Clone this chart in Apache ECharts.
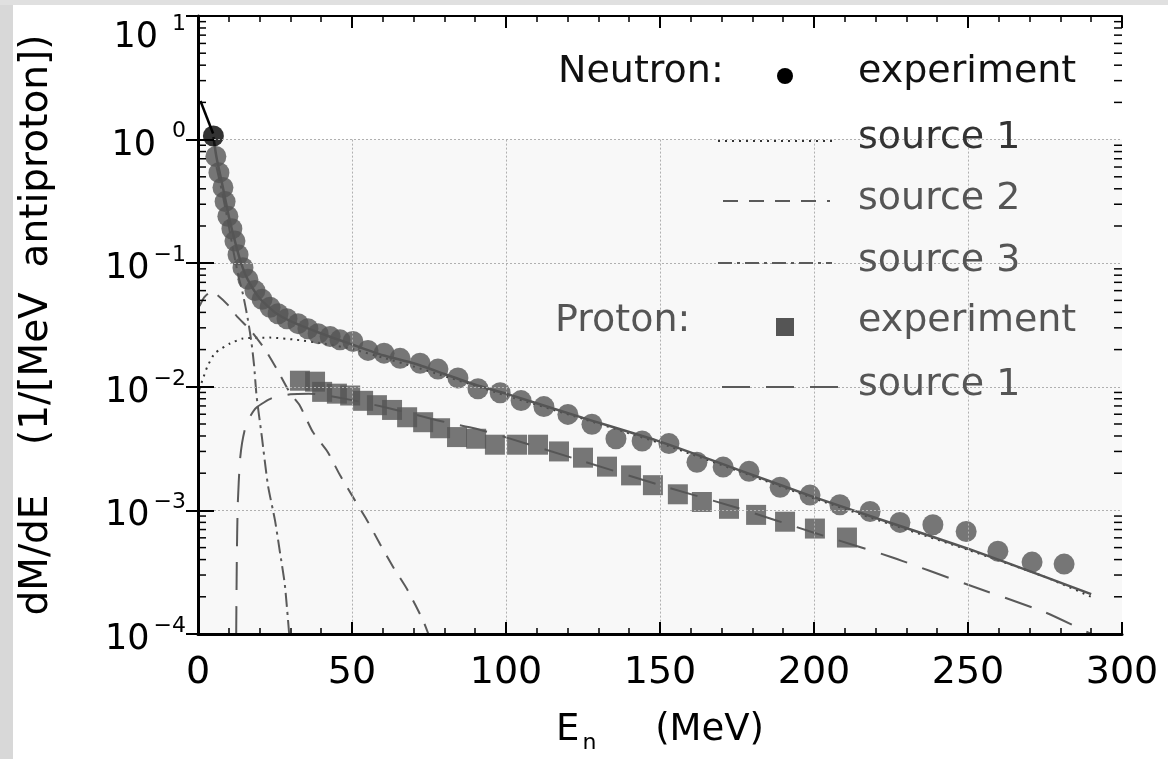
<!DOCTYPE html>
<html><head><meta charset="utf-8">
<script src="https://cdn.jsdelivr.net/npm/echarts@6/dist/echarts.min.js"></script>
<style>html,body{margin:0;padding:0;background:#fff}#c{width:1168px;height:759px}</style>
</head><body><div id="c"></div>
<script>
// ---- data: [E (MeV), dM/dE (1/[MeV antiproton])] ----
const neutronExp = [[5.0,1.07],[5.8,0.73],[6.8,0.54],[8.1,0.41],[8.8,0.315],[9.7,0.24],[11.0,0.19],[12.0,0.151],[13.0,0.117],[14.6,0.092],[16.2,0.074],[18.5,0.060],[20.8,0.051],[23.4,0.044],[26.0,0.039],[28.9,0.0355],[32.5,0.0324],[35.7,0.0295],[39.0,0.0269],[42.9,0.0255],[46.1,0.024],[50.3,0.0233],[55.2,0.0197],[60.4,0.0187],[65.6,0.0170],[72.1,0.0155],[77.9,0.0139],[84.4,0.0118],[90.9,0.00964],[98.1,0.00895],[104.9,0.00773],[112.3,0.00692],[120.1,0.00598],[127.9,0.00498],[135.7,0.0038],[144.2,0.00364],[152.9,0.00347],[162.0,0.00245],[170.5,0.00224],[178.9,0.00207],[189.0,0.00154],[198.7,0.00133],[208.4,0.00111],[218.2,0.00098],[227.9,0.00080],[238.6,0.000766],[249.4,0.000675],[259.7,0.000468],[270.8,0.000382],[281.2,0.000368]];
const protonExp = [[33.1,0.0112],[38.0,0.0110],[40.3,0.0091],[45.1,0.0088],[49.4,0.0085],[53.6,0.0077],[58.1,0.0071],[63.0,0.0065],[67.9,0.00567],[73.1,0.00517],[78.6,0.00462],[84.1,0.00392],[90.3,0.0038],[96.4,0.0034],[103.6,0.0034],[110.4,0.0034],[117.2,0.0030],[125.0,0.00267],[132.8,0.00226],[140.6,0.00192],[147.7,0.0016],[155.8,0.00135],[163.6,0.00117],[172.4,0.00103],[181.2,0.00092],[190.6,0.00081],[200.3,0.000713],[210.7,0.000603]];
const neutronTotalLow = [[0.8,2.05],[4.9,1.12]];
const neutronTotal = [[5,1.05],[6,0.72],[8,0.42],[10,0.24],[12,0.15],[14,0.1],[16,0.075],[20,0.052],[25,0.04],[30,0.034],[40,0.027],[50,0.022],[60,0.018],[70,0.0155],[80,0.0127],[90,0.0104],[100,0.0088],[125,0.0056],[150,0.0036],[175,0.00215],[200,0.00128],[225,0.00079],[250,0.00049],[275,0.00029],[290,0.00021]];
const neutronSource1 = [[0.4,0.0095],[1.6,0.0116],[3,0.0145],[5.5,0.0187],[10.4,0.0224],[14.6,0.0246],[23.4,0.025],[32,0.024],[40.6,0.0224],[49.4,0.0204],[60,0.0172],[70,0.0146],[80,0.0122],[90,0.0102],[100,0.0085],[125,0.0055],[150,0.0035],[175,0.0021],[200,0.00125],[225,0.00077],[250,0.00048],[275,0.00029],[290,0.0002]];
const neutronSource2 = [[0.5,0.045],[2,0.053],[4,0.058],[6,0.056],[9.7,0.046],[12.7,0.037],[16.9,0.029],[21.8,0.020],[25.6,0.0139],[29.9,0.0089],[33,0.0071],[37.3,0.0043],[42,0.0030],[46,0.00195],[51,0.0012],[54.9,0.00083],[59,0.00054],[63.3,0.00035],[67.9,0.00023],[73,0.00013],[74.8,0.0001]];
const neutronSource3 = [[6,0.6],[8,0.36],[10,0.2],[11.5,0.125],[13.1,0.079],[14.6,0.056],[16.2,0.035],[17.4,0.0224],[18.2,0.015],[19,0.0085],[20.7,0.0040],[22.7,0.0016],[25,0.00083],[26.6,0.00046],[28.2,0.00025],[29.6,0.0001]];
const protonSource1 = [[12.4,0.0001],[12.6,0.0004],[12.9,0.0011],[13.6,0.0025],[14.3,0.0035],[15.3,0.0046],[17,0.0058],[19,0.0068],[24,0.0081],[30,0.0087],[36,0.0088],[42,0.0085],[50,0.0078],[60,0.0069],[70,0.006],[80,0.0052],[90,0.0046],[100,0.0039],[125,0.0025],[150,0.0016],[175,0.00105],[200,0.00066],[225,0.00042],[250,0.00025],[275,0.00015],[290,0.0001]];
const xTicks = [0,50,100,150,200,250,300];
const yDecades = [-4,-3,-2,-1,0,1];

const FONT = 'DejaVu Sans';
const GRAY = '#555';

// minor log ticks (2..9 per decade)
const minorY = [];
for (let d = -4; d < 1; d++) for (let m = 2; m <= 9; m++) minorY.push([0, m * Math.pow(10, d)]);

// grid lines (only in lower region, 10^0 .. 10^-4)
const gridLines = [];
xTicks.slice(1, -1).forEach(x => gridLines.push([{coord:[x,1]},{coord:[x,1e-4]}]));
yDecades.filter(d => d <= 0 && d > -4).forEach(d => gridLines.push([{coord:[0,Math.pow(10,d)]},{coord:[300,Math.pow(10,d)]}]));

const chart = echarts.init(document.getElementById('c'));
const axisBase = {
  type:'value', min:0, max:300, interval:50, z:5,
  axisLine:{lineStyle:{color:'#000',width:3}},
  axisTick:{inside:true,length:12,lineStyle:{color:'#000',width:2}},
  minorTick:{show:true,splitNumber:5,length:6,lineStyle:{color:'#000',width:1.5}},
  splitLine:{show:false}
};
const yBase = {
  type:'log', logBase:10, min:1e-4, max:10, z:5,
  axisLine:{lineStyle:{color:'#000',width:3}},
  axisTick:{inside:true,length:16,lineStyle:{color:'#000',width:2}},
  splitLine:{show:false}, minorTick:{show:false}
};
function lineSeries(name, data, color, width, dash, z){
  return {name, type:'line', data, symbol:'none', smooth:0.2, z:z||2,
    lineStyle:{color, width, type:dash||'solid'}, silent:true, animation:false};
}
chart.setOption({
  backgroundColor:'#fff',
  animation:false,
  grid:{left:198, right:46, top:16, bottom:117},
  xAxis:[
    Object.assign({}, axisBase, {position:'bottom',
      axisLabel:{fontSize:38,color:'#000',fontFamily:FONT,margin:20},
      name:'{a|E}{s|n}{a|     (MeV)}', nameLocation:'middle', nameGap:72,
      nameTextStyle:{color:'#000',fontFamily:FONT,rich:{
        a:{fontSize:37,fontFamily:FONT,color:'#000'},
        s:{fontSize:22,fontFamily:FONT,color:'#000',padding:[26,0,0,3]}}}}),
    Object.assign({}, axisBase, {position:'top', axisLabel:{show:false},
      axisLine:{lineStyle:{color:'#000',width:2}}})
  ],
  yAxis:[
    Object.assign({}, yBase, {position:'left',
      axisLabel:{margin:12, align:'right', color:'#000',
        formatter: v => {
          const e = Math.round(Math.log10(v));
          const s = e < 0 ? '\u2212' + (-e) : '' + e;
          if (e === 1) return '{bt|10}{et|' + s + '}';
          return '{b|10}{' + (e < 0 ? 'en' : 'ep') + '|' + s + '}';
        },
        rich:{
          b:{fontSize:35,fontFamily:FONT,color:'#000',padding:[12,0,0,0]},
          ep:{fontSize:22,fontFamily:FONT,color:'#000',padding:[0,0,16,16]},
          en:{fontSize:22,fontFamily:FONT,color:'#000',padding:[0,0,16,4]},
          bt:{fontSize:35,fontFamily:FONT,color:'#000',padding:[44,0,0,0]},
          et:{fontSize:22,fontFamily:FONT,color:'#000',padding:[32,0,16,14]}
        }},
      name:'dM/dE    (1/[MeV  antiproton])', nameLocation:'middle', nameGap:142,
      nameTextStyle:{fontSize:39,fontFamily:FONT,color:'#000'}}),
    Object.assign({}, yBase, {position:'right', axisLabel:{show:false},
      axisLine:{lineStyle:{color:'#000',width:2}}, axisTick:{inside:true,length:12,lineStyle:{color:'#000',width:2}}})
  ],
  series:[
    {name:'bg', type:'line', data:[], z:0, silent:true,
      markArea:{silent:true, itemStyle:{color:'#f8f8f8',opacity:1}, data:[[{coord:[0,1]},{coord:[300,1e-4]}]]},
      markLine:{silent:true, symbol:'none', label:{show:false},
        lineStyle:{color:'#b0b0b0',width:1,type:[2,2]}, data:gridLines}},
    lineSeries('Neutron source 1', neutronSource1, '#333', 2, [2,5]),
    lineSeries('Neutron source 2', neutronSource2, '#5a5a5a', 2, [15,11]),
    lineSeries('Neutron source 3', neutronSource3, '#5a5a5a', 2, [14,5,3,5]),
    lineSeries('Proton source 1', protonSource1, '#5a5a5a', 2, [28,16]),
    lineSeries('Neutron total', neutronTotal, GRAY, 2.5),
    {name:'Neutron experiment', type:'scatter', symbol:'circle', symbolSize:21, z:3, silent:true,
      itemStyle:{color:GRAY},
      data: neutronExp.map((p,i) => i === 0 ? {value:p, itemStyle:{color:'#000'}, z2:5} : p)},
    {name:'Proton experiment', type:'scatter', symbol:'rect', symbolSize:20, z:3, silent:true,
      itemStyle:{color:GRAY}, data: protonExp},
    lineSeries('Neutron total (low E)', neutronTotalLow, '#000', 2.5, 'solid', 4),
    {name:'minor y ticks', type:'custom', data:minorY, encode:{x:0,y:1}, z:6, silent:true, clip:false,
      renderItem:(params, api) => {
        const v = api.value(1);
        const pL = api.coord([0, v]), pR = api.coord([300, v]);
        return {type:'group', children:[
          {type:'line', shape:{x1:pL[0], y1:pL[1], x2:pL[0]+8, y2:pL[1]}, style:{stroke:'#000', lineWidth:1.5}},
          {type:'line', shape:{x1:pR[0], y1:pR[1], x2:pR[0]-8, y2:pR[1]}, style:{stroke:'#000', lineWidth:1.5}}
        ]};
      }}
  ],
  graphic:[
    {type:'rect', z:20, shape:{x:0,y:0,width:13,height:759}, style:{fill:'#d8d8d8'}},
    {type:'rect', z:20, shape:{x:0,y:0,width:1168,height:5}, style:{fill:'#e0e0e0'}},
    {type:'text', z:20, x:558, y:72, style:{text:'Neutron:', fontSize:38, fontFamily:FONT, fill:'#111', verticalAlign:'middle'}},
    {type:'circle', z:20, shape:{cx:785, cy:76, r:8}, style:{fill:'#000'}},
    {type:'text', z:20, x:858, y:72, style:{text:'experiment', fontSize:38, fontFamily:FONT, fill:'#111', verticalAlign:'middle'}},
    {type:'line', z:20, shape:{x1:718,y1:141,x2:832,y2:141}, style:{stroke:'#333', lineWidth:2, lineDash:[2,5]}},
    {type:'text', z:20, x:858, y:138, style:{text:'source 1', fontSize:38, fontFamily:FONT, fill:'#333', verticalAlign:'middle'}},
    {type:'line', z:20, shape:{x1:723,y1:201,x2:830,y2:201}, style:{stroke:'#5a5a5a', lineWidth:2, lineDash:[15,11]}},
    {type:'text', z:20, x:858, y:199, style:{text:'source 2', fontSize:38, fontFamily:FONT, fill:GRAY, verticalAlign:'middle'}},
    {type:'line', z:20, shape:{x1:718,y1:263,x2:832,y2:263}, style:{stroke:'#5a5a5a', lineWidth:2, lineDash:[14,5,3,5]}},
    {type:'text', z:20, x:858, y:261, style:{text:'source 3', fontSize:38, fontFamily:FONT, fill:GRAY, verticalAlign:'middle'}},
    {type:'text', z:20, x:555, y:321, style:{text:'Proton:', fontSize:38, fontFamily:FONT, fill:GRAY, verticalAlign:'middle'}},
    {type:'rect', z:20, shape:{x:776,y:318,width:18,height:18}, style:{fill:GRAY}},
    {type:'text', z:20, x:858, y:321, style:{text:'experiment', fontSize:38, fontFamily:FONT, fill:GRAY, verticalAlign:'middle'}},
    {type:'line', z:20, shape:{x1:722,y1:387,x2:842,y2:387}, style:{stroke:'#5a5a5a', lineWidth:2, lineDash:[28,16]}},
    {type:'text', z:20, x:858, y:385, style:{text:'source 1', fontSize:38, fontFamily:FONT, fill:GRAY, verticalAlign:'middle'}}
  ]
});
</script>
</body></html>
